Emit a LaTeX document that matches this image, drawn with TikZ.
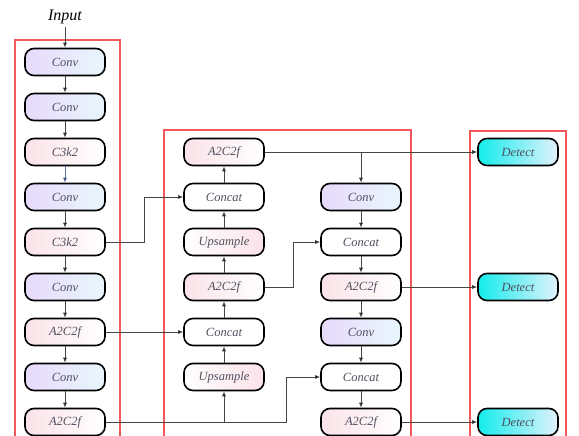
\documentclass[tikz,border=0pt]{standalone}
\usepackage{fontspec}
\setmainfont{Liberation Serif}
\usetikzlibrary{arrows.meta}
\definecolor{frame}{RGB}{240,88,92}
\definecolor{lav}{RGB}{232,218,252}
\definecolor{lcyan}{RGB}{232,246,252}
\definecolor{lpink}{RGB}{250,226,232}
\definecolor{dcyan}{RGB}{20,236,236}
\definecolor{dcyanr}{RGB}{226,242,252}
\definecolor{txt}{RGB}{80,80,95}
\definecolor{wire}{RGB}{70,70,70}
\tikzset{
  blk/.style={draw=black, line width=1.6pt, rounded corners=9pt, minimum width=80pt, minimum height=27pt, inner sep=0pt, font=\itshape\fontsize{12.5}{14}\selectfont, text=txt},
  convb/.style={blk, left color=lav, right color=lcyan},
  pinkb/.style={blk, left color=lpink, right color=white},
  whiteb/.style={blk, fill=white},
  upb/.style={blk, left color=white, right color=lpink},
  detb/.style={blk, left color=dcyan, right color=dcyanr},
  redframe/.style={draw=frame, line width=2pt},
  wr/.style={draw=wire, line width=0.7pt},
  ar/.style={wr, -{Latex[length=5pt,width=4pt,fill=black]}},
}
\begin{document}
\begin{tikzpicture}[x=1pt,y=-1pt]
\useasboundingbox (0,0) rectangle (579,436);
\fill[white] (0,0) rectangle (579,436);
% frames
\draw[redframe] (15,40) rectangle (120,440);
\draw[redframe] (164,130) rectangle (411,440);
\draw[redframe] (470,131) rectangle (566,440);
% input
\node[font=\itshape\fontsize{16}{18}\selectfont, text=black] (in) at (65,17) {Input};
% left column
\node[convb]  (l1) at (65,62)  {Conv};
\node[convb]  (l2) at (65,107) {Conv};
\node[pinkb]  (l3) at (65,152) {C3k2};
\node[convb]  (l4) at (65,197) {Conv};
\node[pinkb]  (l5) at (65,242) {C3k2};
\node[convb]  (l6) at (65,287) {Conv};
\node[pinkb]  (l7) at (65,332) {A2C2f};
\node[convb]  (l8) at (65,377) {Conv};
\node[pinkb]  (l9) at (65,422) {A2C2f};
% middle-left column
\node[pinkb]  (m1) at (224,152) {A2C2f};
\node[whiteb] (m2) at (224,197) {Concat};
\node[upb]    (m3) at (224,242) {Upsample};
\node[pinkb]  (m4) at (224,287) {A2C2f};
\node[whiteb] (m5) at (224,332) {Concat};
\node[upb]    (m6) at (224,377) {Upsample};
% middle-right column
\node[convb]  (r1) at (361,197) {Conv};
\node[whiteb] (r2) at (361,242) {Concat};
\node[pinkb]  (r3) at (361,287) {A2C2f};
\node[convb]  (r4) at (361,332) {Conv};
\node[whiteb] (r5) at (361,377) {Concat};
\node[pinkb]  (r6) at (361,422) {A2C2f};
% detect
\node[detb]   (d1) at (518,152) {Detect};
\node[detb]   (d2) at (518,287) {Detect};
\node[detb]   (d3) at (518,422) {Detect};
% left chain
\draw[ar] (in) -- (l1);
\draw[ar] (l1) -- (l2);
\draw[ar] (l2) -- (l3);
\draw[ar, draw={rgb,255:red,90;green,120;blue,170}] (l3) -- (l4);
\draw[ar] (l4) -- (l5);
\draw[ar] (l5) -- (l6);
\draw[ar] (l6) -- (l7);
\draw[ar] (l7) -- (l8);
\draw[ar] (l8) -- (l9);
% middle-left chain (upwards)
\draw[ar] (m6) -- (m5);
\draw[ar] (m5) -- (m4);
\draw[ar] (m4) -- (m3);
\draw[ar] (m3) -- (m2);
\draw[ar] (m2) -- (m1);
% middle-right chain (downwards)
\draw[ar] (r1) -- (r2);
\draw[ar] (r2) -- (r3);
\draw[ar] (r3) -- (r4);
\draw[ar] (r4) -- (r5);
\draw[ar] (r5) -- (r6);
% skip connections
\draw[ar] (l5.east) -- (144,242) |- (m2.west);
\draw[ar] (l7.east) -- (m5.west);
\coordinate (b1) at (224,422);
\draw[wr] (l9.east) -- (b1);
\draw[ar] (b1) -- (m6.south);
\draw[ar] (b1) -- (286,422) |- (r5.west);
\draw[ar] (m4.east) -- (293,287) |- (r2.west);
\coordinate (b2) at (361,152);
\draw[ar] (m1.east) -- (d1.west);
\draw[ar] (b2) -- (r1.north);
\draw[ar] (r3.east) -- (d2.west);
\draw[ar] (r6.east) -- (d3.west);
\end{tikzpicture}
\end{document}
